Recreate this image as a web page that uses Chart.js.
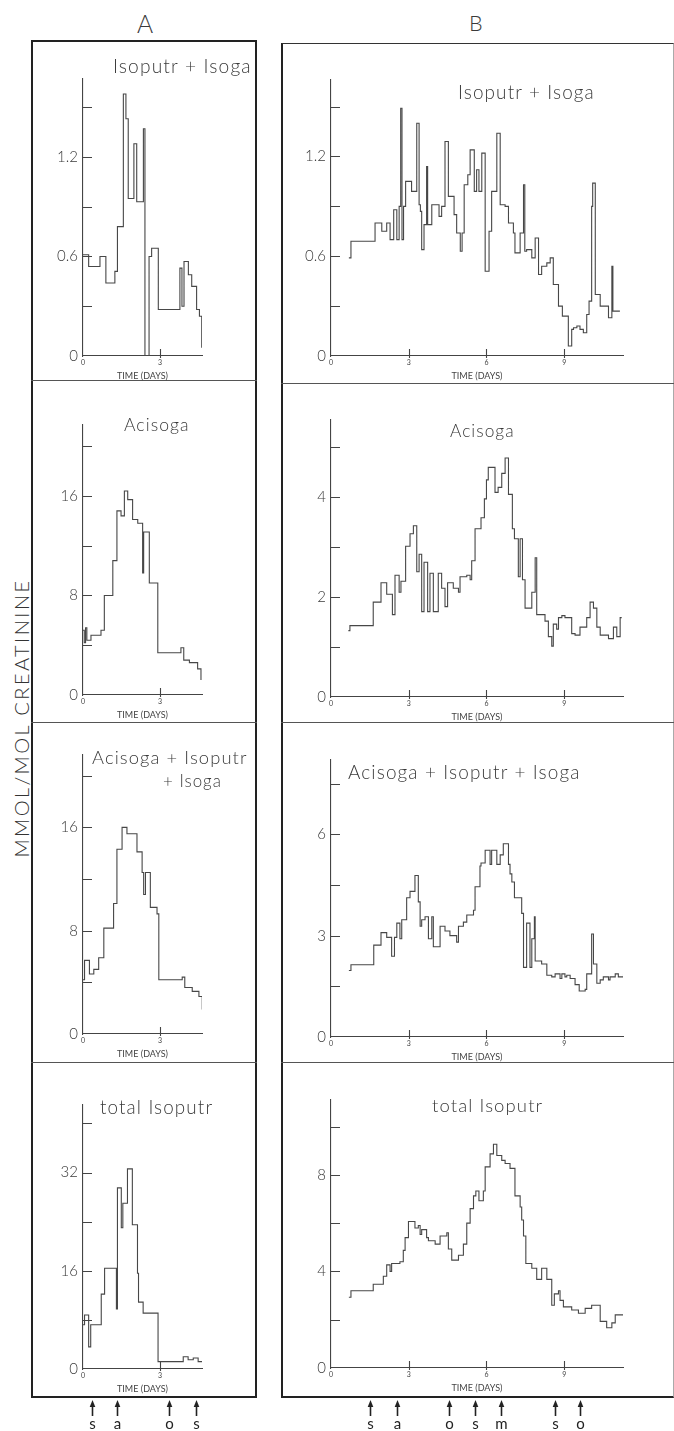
<!DOCTYPE html>
<html>
<head>
<meta charset="utf-8">
<script src="https://cdn.jsdelivr.net/npm/chart.js@4.4.0/dist/chart.umd.min.js"></script>
<style>
  body { margin: 0; background: #fff; width: 674px; height: 1431px; position: relative; overflow: hidden; font-family: Lato, 'DejaVu Sans', sans-serif; color: #3a3a3a; }
  .frame { position: absolute; box-sizing: border-box; }
  .hline { position: absolute; height: 0; border-top: 1.5px solid #555; }
  .txt { position: absolute; white-space: nowrap; line-height: 1; letter-spacing: 0.06em; font-weight: 300; }
  canvas { position: absolute; }
</style>
</head>
<body>

<div class="frame" style="left:31px;top:40px;width:226px;height:1358px;border:2px solid #222;"></div>
<div class="frame" style="left:281px;top:43px;width:393px;height:1355px;border-left:2px solid #222;border-top:1.5px solid #333;border-bottom:2px solid #222;border-right:1px solid #aaa;"></div>
<div class="hline" style="left:31px;width:226px;top:380px;"></div>
<div class="hline" style="left:31px;width:226px;top:722px;"></div>
<div class="hline" style="left:31px;width:226px;top:1062px;"></div>
<div class="hline" style="left:281px;width:393px;top:383px;"></div>
<div class="hline" style="left:281px;width:393px;top:722px;"></div>
<div class="hline" style="left:281px;width:393px;top:1062px;"></div>

<script>
// ---- data (days, value) ----
const a1Days = [0, 0.22, 0.66, 0.89, 1.24, 1.34, 1.57, 1.67, 1.76, 1.98, 2.09, 2.35, 2.41, 2.57, 2.67, 2.93, 3.77, 3.85, 3.93, 4.10, 4.23, 4.42, 4.53, 4.62];
const a1Vals = [0.61, 0.54, 0.60, 0.44, 0.51, 0.78, 1.58, 1.43, 0.95, 1.28, 0.93, 1.37, 0, 0.60, 0.65, 0.28, 0.53, 0.30, 0.57, 0.49, 0.42, 0.28, 0.24, 0.05];

const a2Days = [0, 0.05, 0.10, 0.15, 0.31, 0.70, 0.83, 1.16, 1.32, 1.48, 1.61, 1.74, 1.93, 2.13, 2.32, 2.36, 2.58, 2.91, 3.81, 3.92, 4.14, 4.46, 4.59];
const a2Vals = [5.2, 4.2, 5.4, 4.4, 4.8, 5.2, 8.0, 10.8, 14.8, 14.4, 16.4, 15.7, 14.1, 13.8, 9.8, 13.1, 9.0, 3.4, 3.8, 2.8, 2.6, 2.1, 1.2];

const a3Days = [0, 0.06, 0.25, 0.42, 0.61, 0.81, 1.19, 1.32, 1.52, 1.71, 2.10, 2.30, 2.36, 2.43, 2.62, 2.88, 2.95, 3.86, 3.96, 4.25, 4.51, 4.64];
const a3Vals = [4.2, 5.7, 4.65, 5.0, 5.9, 8.2, 10.1, 14.3, 16.0, 15.5, 14.1, 12.5, 10.8, 12.5, 9.8, 9.3, 4.2, 4.4, 3.6, 3.3, 2.9, 1.9];

const a4Days = [0, 0.06, 0.22, 0.30, 0.71, 0.84, 1.30, 1.34, 1.49, 1.55, 1.73, 1.92, 2.12, 2.16, 2.34, 2.92, 3.90, 4.09, 4.29, 4.48, 4.68];
const a4Vals = [7.2, 8.8, 3.6, 7.2, 12.2, 16.4, 9.8, 29.5, 23.0, 27.0, 32.6, 23.5, 15.6, 10.9, 9.1, 1.2, 2.0, 1.5, 1.8, 1.2, 0.8];

const b1Days = [0.69, 0.77, 1.70, 1.96, 2.15, 2.28, 2.42, 2.54, 2.63, 2.69, 2.74, 2.80, 2.88, 3.11, 3.31, 3.40, 3.45, 3.50, 3.59, 3.69, 3.73, 3.89, 4.17, 4.27, 4.40, 4.53, 4.75, 4.85, 4.99, 5.06, 5.14, 5.28, 5.37, 5.53, 5.62, 5.71, 5.82, 5.95, 6.10, 6.20, 6.40, 6.53, 6.72, 6.85, 7.04, 7.10, 7.30, 7.43, 7.48, 7.55, 7.75, 7.88, 8.01, 8.13, 8.33, 8.46, 8.58, 8.78, 8.93, 9.16, 9.29, 9.36, 9.49, 9.61, 9.74, 9.87, 9.96, 10.06, 10.10, 10.20, 10.39, 10.71, 10.84, 10.88, 11.15];
const b1Vals = [0.59, 0.69, 0.80, 0.75, 0.80, 0.70, 0.88, 0.70, 0.90, 1.49, 0.70, 0.90, 1.05, 0.99, 1.40, 0.91, 0.87, 0.64, 0.79, 1.14, 0.79, 0.91, 0.84, 0.90, 1.29, 0.96, 0.85, 0.74, 0.63, 0.74, 1.03, 1.09, 1.24, 0.99, 1.12, 0.99, 1.22, 0.51, 0.75, 0.99, 1.34, 0.91, 0.90, 0.80, 0.74, 0.62, 0.74, 1.03, 0.63, 0.64, 0.59, 0.71, 0.49, 0.54, 0.56, 0.59, 0.43, 0.30, 0.24, 0.06, 0.16, 0.17, 0.18, 0.16, 0.14, 0.25, 0.33, 0.90, 1.04, 0.37, 0.30, 0.23, 0.54, 0.27, 0.27];

const b2Days = [0.67, 0.73, 1.63, 1.93, 2.15, 2.37, 2.47, 2.63, 2.70, 2.88, 3.05, 3.18, 3.31, 3.40, 3.50, 3.59, 3.73, 3.82, 3.95, 4.14, 4.27, 4.40, 4.50, 4.72, 4.92, 4.98, 5.24, 5.37, 5.43, 5.56, 5.79, 5.92, 6.00, 6.07, 6.33, 6.45, 6.59, 6.72, 6.85, 7.00, 7.08, 7.23, 7.30, 7.39, 7.49, 7.75, 7.88, 7.94, 8.26, 8.39, 8.52, 8.58, 8.71, 8.78, 8.91, 9.03, 9.29, 9.42, 9.61, 9.74, 9.87, 10.00, 10.13, 10.26, 10.39, 10.71, 10.90, 11.03, 11.16, 11.22];
const b2Vals = [1.33, 1.43, 1.90, 2.29, 2.06, 1.65, 2.44, 2.10, 2.32, 3.02, 3.27, 3.43, 2.51, 2.86, 1.71, 2.70, 1.71, 2.48, 1.71, 2.48, 2.18, 1.81, 2.29, 2.18, 2.10, 2.41, 2.44, 2.35, 2.73, 3.37, 3.59, 3.97, 4.35, 4.60, 4.10, 4.20, 4.48, 4.79, 4.06, 3.37, 3.17, 2.41, 3.17, 2.35, 1.78, 2.10, 2.79, 1.65, 1.52, 1.21, 1.02, 1.46, 1.36, 1.59, 1.63, 1.59, 1.27, 1.24, 1.40, 1.40, 1.59, 1.90, 1.78, 1.40, 1.24, 1.17, 1.40, 1.21, 1.59, 1.59];

const b3Days = [0.69, 0.77, 1.65, 1.93, 2.15, 2.34, 2.45, 2.54, 2.66, 2.73, 2.92, 3.05, 3.24, 3.37, 3.44, 3.50, 3.63, 3.76, 3.89, 3.95, 4.21, 4.40, 4.59, 4.85, 4.92, 5.11, 5.24, 5.50, 5.56, 5.75, 5.79, 5.95, 6.14, 6.20, 6.40, 6.53, 6.65, 6.85, 6.91, 6.98, 7.08, 7.36, 7.43, 7.55, 7.68, 7.75, 7.85, 7.88, 8.13, 8.33, 8.52, 8.65, 8.84, 8.91, 9.03, 9.10, 9.23, 9.42, 9.58, 9.81, 9.87, 10.06, 10.13, 10.26, 10.39, 10.51, 10.71, 10.77, 10.97, 11.09, 11.29];
const b3Vals = [1.97, 2.14, 2.72, 3.09, 2.95, 2.39, 2.95, 3.37, 2.91, 3.47, 4.12, 4.31, 4.78, 4.00, 3.28, 3.47, 3.56, 2.91, 3.56, 2.67, 3.28, 3.14, 3.00, 2.81, 3.28, 3.40, 3.61, 3.75, 4.45, 5.06, 5.15, 5.53, 5.11, 5.53, 5.11, 5.39, 5.72, 5.11, 4.83, 4.59, 4.12, 3.66, 2.06, 3.37, 2.06, 2.91, 3.56, 2.25, 2.16, 1.83, 1.78, 1.87, 1.73, 1.87, 1.78, 1.83, 1.73, 1.55, 1.36, 1.41, 1.87, 3.05, 2.16, 1.59, 1.69, 1.78, 1.69, 1.78, 1.87, 1.78, 1.87];

const b4Days = [0.69, 0.77, 1.63, 2.02, 2.15, 2.28, 2.34, 2.66, 2.79, 2.86, 2.99, 3.24, 3.37, 3.44, 3.50, 3.69, 3.76, 4.02, 4.21, 4.47, 4.53, 4.66, 4.92, 5.11, 5.24, 5.37, 5.50, 5.59, 5.71, 5.88, 5.95, 6.14, 6.27, 6.40, 6.59, 6.72, 6.91, 7.10, 7.30, 7.36, 7.43, 7.52, 7.75, 7.94, 8.13, 8.33, 8.52, 8.62, 8.78, 8.84, 8.97, 9.29, 9.55, 9.81, 10.06, 10.39, 10.64, 10.84, 10.97, 11.29];
const b4Vals = [2.93, 3.20, 3.47, 3.80, 4.27, 4.00, 4.33, 4.40, 4.87, 5.40, 6.07, 5.80, 5.90, 5.53, 5.73, 5.40, 5.27, 5.13, 5.47, 5.60, 4.93, 4.47, 4.67, 5.13, 6.00, 6.60, 7.13, 7.33, 6.93, 7.33, 8.33, 8.87, 9.27, 8.80, 8.60, 8.47, 8.27, 7.13, 6.67, 6.13, 5.47, 4.33, 4.13, 3.67, 4.13, 3.67, 2.60, 3.07, 3.20, 2.80, 2.53, 2.40, 2.27, 2.47, 2.60, 1.93, 1.67, 1.87, 2.20, 2.20];

// ---- ticks ----
const ratioTicks = [0, 0.3, 0.6, 0.9, 1.2, 1.5];
const ratioLabels = ['0', '', '0.6', '', '1.2', ''];
const a2yTicks = [0, 4, 8, 12, 16, 20];
const a2yLabels = ['0', '', '8', '', '16', ''];
const a4yTicks = [0, 8, 16, 24, 32, 40];
const a4yLabels = ['0', '', '16', '', '32', ''];
const b2yTicks = [0, 1, 2, 3, 4, 5];
const b2yLabels = ['0', '', '2', '', '4', ''];
const b3yTicks = [0, 1.5, 3, 4.5, 6, 7.5];
const b3yLabels = ['0', '', '3', '', '6', ''];
const b4yTicks = [0, 2, 4, 6, 8, 10];
const b4yLabels = ['0', '', '4', '', '8', ''];
const dayTicks = [0, 3, 6, 9];

// ---- treatment markers under the bottom panels ----
const eventsA = [0.35, 1.32, 3.35, 4.40];
const eventLabelsA = ['s', 'a', 'o', 's'];
const eventsB = [1.52, 2.53, 4.55, 5.56, 6.58, 8.64, 9.61];
const eventLabelsB = ['s', 'a', 'o', 's', 'm', 's', 'o'];

const FONT = "Lato, 'DejaVu Sans', sans-serif";
const INK = '#444';
const PAD_L = 42, PAD_R = 8, PAD_T = 4, X_H = 28;

// box = chart area in page px: left, top, right, zero line
const panels = [
  { days: a1Days, vals: a1Vals, yTicks: ratioTicks, yLabels: ratioLabels, ymax: 1.67, xmax: 4.63, box: [83, 69, 202, 356] },
  { days: a2Days, vals: a2Vals, yTicks: a2yTicks, yLabels: a2yLabels, ymax: 21.7, xmax: 4.63, box: [83, 415, 202, 695] },
  { days: a3Days, vals: a3Vals, yTicks: a2yTicks, yLabels: a2yLabels, ymax: 21.6, xmax: 4.63, box: [83, 745, 202, 1034] },
  { days: a4Days, vals: a4Vals, yTicks: a4yTicks, yLabels: a4yLabels, ymax: 43, xmax: 4.63, box: [83, 1095, 202, 1369], events: eventsA, eventLabels: eventLabelsA },
  { days: b1Days, vals: b1Vals, yTicks: ratioTicks, yLabels: ratioLabels, ymax: 1.66, xmax: 11.27, box: [331, 70, 623, 356] },
  { days: b2Days, vals: b2Vals, yTicks: b2yTicks, yLabels: b2yLabels, ymax: 5.55, xmax: 11.27, box: [331, 410, 623, 697] },
  { days: b3Days, vals: b3Vals, yTicks: b3yTicks, yLabels: b3yLabels, ymax: 8.2, xmax: 11.27, box: [331, 750, 623, 1037] },
  { days: b4Days, vals: b4Vals, yTicks: b4yTicks, yLabels: b4yLabels, ymax: 11.1, xmax: 11.27, box: [331, 1090, 623, 1368], events: eventsB, eventLabels: eventLabelsB }
];

// tick marks point into the plot, plus the arrows under the last row
function marksPlugin(p) {
  return {
    id: 'marks',
    afterDraw(chart) {
      const { ctx, chartArea: a, scales: { x, y } } = chart;
      ctx.save();
      ctx.strokeStyle = INK;
      ctx.fillStyle = INK;
      ctx.lineWidth = 1.1;
      ctx.beginPath();
      y.ticks.forEach(t => {
        if (t.value === 0) return;
        const py = Math.round(y.getPixelForValue(t.value)) + 0.5;
        ctx.moveTo(a.left, py);
        ctx.lineTo(a.left + 9, py);
      });
      x.ticks.forEach(t => {
        if (t.value === 0) return;
        const px = Math.round(x.getPixelForValue(t.value)) + 0.5;
        ctx.moveTo(px, a.bottom - 7);
        ctx.lineTo(px, a.bottom + 2);
      });
      ctx.stroke();

      if (p.events) {
        const off = p.box[1] - PAD_T;
        const top = 1400 - off, tail = 1416 - off;
        ctx.strokeStyle = '#222';
        ctx.fillStyle = '#222';
        ctx.font = `15px ${FONT}`;
        ctx.textAlign = 'center';
        ctx.textBaseline = 'middle';
        p.events.forEach((d, i) => {
          const px = Math.round(x.getPixelForValue(d)) + 0.5;
          ctx.beginPath();
          ctx.moveTo(px, top + 4);
          ctx.lineTo(px, tail);
          ctx.lineWidth = 1.6;
          ctx.stroke();
          ctx.beginPath();
          ctx.moveTo(px, top);
          ctx.lineTo(px - 2.8, top + 7);
          ctx.lineTo(px + 2.8, top + 7);
          ctx.closePath();
          ctx.fill();
          ctx.fillText(p.eventLabels[i], px, 1424 - off);
        });
      }
      ctx.restore();
    }
  };
}

function makeChart(p) {
  const [l, t, r, b] = p.box;
  const extra = p.events ? 1431 - (b + X_H) : 0;
  const W = (r - l) + PAD_L + PAD_R;
  const H = (b - t) + PAD_T + X_H + extra;
  const cv = document.createElement('canvas');
  cv.width = W;
  cv.height = H;
  cv.style.left = (l - PAD_L) + 'px';
  cv.style.top = (t - PAD_T) + 'px';
  cv.style.width = W + 'px';
  cv.style.height = H + 'px';
  document.body.appendChild(cv);

  const pts = p.days.map((d, i) => ({ x: d, y: p.vals[i] }));

  new Chart(cv.getContext('2d'), {
    type: 'line',
    data: {
      datasets: [{
        data: pts,
        stepped: true,
        borderColor: '#474747',
        borderWidth: 1.1,
        pointRadius: 0,
        fill: false
      }]
    },
    options: {
      responsive: false,
      animation: false,
      layout: { padding: { left: 0, right: PAD_R, top: PAD_T, bottom: extra } },
      plugins: { legend: { display: false }, tooltip: { enabled: false }, title: { display: false } },
      scales: {
        x: {
          type: 'linear',
          min: 0,
          max: p.xmax,
          afterBuildTicks: s => { s.ticks = dayTicks.filter(v => v <= p.xmax).map(v => ({ value: v })); },
          afterFit: s => { s.height = X_H; },
          grid: { display: true, drawOnChartArea: false, drawTicks: false },
          border: { display: true, color: INK, width: 1.1 },
          ticks: { autoSkip: false, maxRotation: 0, padding: 3, color: INK, font: { size: 7, family: FONT }, callback: v => String(v) },
          title: { display: true, text: 'TIME (DAYS)', color: INK, font: { size: 9, family: FONT }, padding: { top: 0, bottom: 3 } }
        },
        y: {
          type: 'linear',
          min: 0,
          max: p.ymax,
          afterBuildTicks: s => { s.ticks = p.yTicks.map(v => ({ value: v })); },
          afterFit: s => { s.width = PAD_L; },
          grid: { display: true, drawOnChartArea: false, drawTicks: false },
          border: { display: true, color: INK, width: 1.1 },
          ticks: { autoSkip: false, padding: 5, color: '#3a3a3a', font: { size: 15, family: FONT, weight: '300' }, callback: (v, i) => p.yLabels[i] }
        }
      }
    },
    plugins: [marksPlugin(p)]
  });
}

panels.forEach(makeChart);

// ---- text: panel headings, panel titles, shared y label ----
function addText(str, left, right, cy, extraStyle) {
  const el = document.createElement('div');
  el.className = 'txt';
  el.textContent = str;
  el.style.fontSize = '20px';
  if (extraStyle) el.style.cssText += extraStyle;
  document.body.appendChild(el);
  const w = el.offsetWidth;
  const size = 20 * (right - left) / w;
  el.style.fontSize = size.toFixed(2) + 'px';
  el.style.left = left + 'px';
  el.style.top = (cy - el.offsetHeight / 2) + 'px';
  return el;
}

addText('A', 137, 153, 24, 'letter-spacing:0;');
addText('B', 469, 483, 24, 'letter-spacing:0;');
addText('Isoputr + Isoga', 113, 252, 65);
addText('Isoputr + Isoga', 458, 595, 92);
addText('Acisoga', 124, 190, 425);
addText('Acisoga', 450, 515, 430);
addText('Acisoga + Isoputr', 92, 248, 757);
addText('+ Isoga', 163, 222, 781);
addText('Acisoga + Isoputr + Isoga', 348, 581, 772);
addText('total Isoputr', 100, 213, 1107);
addText('total Isoputr', 432, 543, 1105);

const yl = addText('MMOL/MOL CREATININE', 0, 279, 0, 'letter-spacing:0.12em;color:#333;');
yl.style.left = (20 - yl.offsetWidth / 2) + 'px';
yl.style.top = (718 - yl.offsetHeight / 2) + 'px';
yl.style.transform = 'rotate(-90deg)';
</script>
</body>
</html>
